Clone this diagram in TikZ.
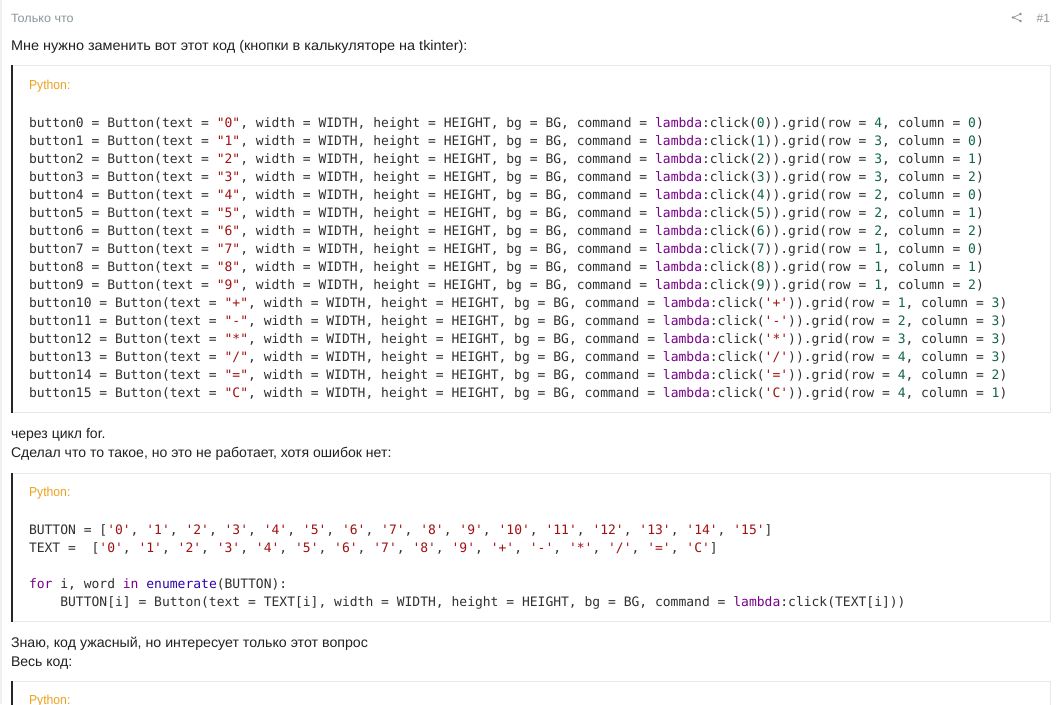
\documentclass[tikz,border=0pt]{standalone}
\usepackage{fontspec}
\setmainfont{Liberation Sans}
\newfontfamily\codefont{DejaVu Sans Mono}
\newfontfamily\bodyA[FakeStretch=1.032]{Liberation Sans}
\newfontfamily\bodyB[FakeStretch=1.014]{Liberation Sans}
\newfontfamily\bodyC[FakeStretch=1.003]{Liberation Sans}
\newfontfamily\metaA[FakeStretch=1.05]{Liberation Sans}
\newfontfamily\pyA[FakeStretch=0.94]{Liberation Sans}
\definecolor{strc}{HTML}{A11111}
\definecolor{numc}{HTML}{116644}
\definecolor{kwc}{HTML}{770088}
\definecolor{defc}{HTML}{3300AA}
\definecolor{codec}{HTML}{303030}
\definecolor{bodyc}{HTML}{212121}
\definecolor{metac}{HTML}{8A9499}
\definecolor{pyc}{HTML}{EDA21F}
\definecolor{edgec}{HTML}{E8E8E8}
\definecolor{stripc}{HTML}{F0F0F0}
\definecolor{barc}{HTML}{262626}
\newcommand{\St}[1]{\textcolor{strc}{#1}}
\newcommand{\Nm}[1]{\textcolor{numc}{#1}}
\newcommand{\Kw}[1]{\textcolor{kwc}{#1}}
\newcommand{\Df}[1]{\textcolor{defc}{#1}}
\newcommand{\BtnLine}[6]{%
  \node[codeline] (b#1) at (29,#2) {button#1 = Button(text = \St{"#3"}, width = WIDTH, height = HEIGHT, bg = BG, command = \Kw{lambda}:click(#4)).grid(row = \Nm{#5}, column = \Nm{#6})};}
\tikzset{
  codeline/.style={anchor=base west,inner sep=0pt,outer sep=0pt,text=codec,font=\codefont\fontsize{13}{18}\selectfont},
  bodytext/.style={anchor=base west,inner sep=0pt,outer sep=0pt,text=bodyc},
  metatext/.style={anchor=base west,inner sep=0pt,outer sep=0pt,text=metac},
  pytext/.style={anchor=base west,inner sep=0pt,outer sep=0pt,text=pyc,font=\pyA\fontsize{13}{16}\selectfont},
  codebox/.style={draw=edgec,fill=white,line width=1pt},
  codebar/.style={fill=barc,draw=none}
}
\begin{document}
\begin{tikzpicture}[x=1pt,y=-1pt]
\useasboundingbox (0,0) rectangle (1060,704);
\clip (0,0) rectangle (1060,704);
\fill[white] (0,0) rectangle (1060,704);
\fill[stripc] (0,0) rectangle (1.5,704);
% header
\node[metatext,font=\metaA\fontsize{12}{16}\selectfont] (when) at (11,22) {Только что};
\node[metatext,anchor=base east,font=\fontsize{12}{16}\selectfont] (num) at (1050,22) {\#1};
\coordinate (sa) at (1020.5,14);
\coordinate (sb) at (1013,17.5);
\coordinate (sc) at (1020.5,21);
\draw[metac,line width=0.7pt] (sa) -- (sb) -- (sc);
\fill[metac] (sa) circle (1.3) (sb) circle (1.3) (sc) circle (1.3);
% first
\node[bodytext,font=\bodyA\fontsize{14}{18}\selectfont] (t1) at (11,50) {Мне нужно заменить вот этот код (кнопки в калькуляторе на tkinter):};
\draw[codebox] (11.5,65.5) rectangle (1050.5,412.5);
\fill[codebar] (11,65) rectangle (13,413);
\node[pytext] (p1) at (29,89.5) {Python:};
\BtnLine{0}{127}{0}{\Nm{0}}{4}{0}
\BtnLine{1}{145}{1}{\Nm{1}}{3}{0}
\BtnLine{2}{163}{2}{\Nm{2}}{3}{1}
\BtnLine{3}{181}{3}{\Nm{3}}{3}{2}
\BtnLine{4}{199}{4}{\Nm{4}}{2}{0}
\BtnLine{5}{217}{5}{\Nm{5}}{2}{1}
\BtnLine{6}{235}{6}{\Nm{6}}{2}{2}
\BtnLine{7}{253}{7}{\Nm{7}}{1}{0}
\BtnLine{8}{271}{8}{\Nm{8}}{1}{1}
\BtnLine{9}{289}{9}{\Nm{9}}{1}{2}
\BtnLine{10}{307}{+}{\St{'+'}}{1}{3}
\BtnLine{11}{325}{-}{\St{'-'}}{2}{3}
\BtnLine{12}{343}{*}{\St{'*'}}{3}{3}
\BtnLine{13}{361}{/}{\St{'/'}}{4}{3}
\BtnLine{14}{379}{=}{\St{'='}}{4}{2}
\BtnLine{15}{397}{C}{\St{'C'}}{4}{1}
% between
\node[bodytext,font=\bodyC\fontsize{14}{18}\selectfont] (t2) at (11,438) {через цикл for.};
\node[bodytext,font=\bodyC\fontsize{14}{18}\selectfont] (t3) at (11,457) {Сделал что то такое, но это не работает, хотя ошибок нет:};
% second
\draw[codebox] (11.5,473.5) rectangle (1050.5,621.5);
\fill[codebar] (11,473) rectangle (13,622);
\node[pytext] (p2) at (29,496) {Python:};
\node[codeline] (c1) at (29,534) {BUTTON = [\St{'0'}, \St{'1'}, \St{'2'}, \St{'3'}, \St{'4'}, \St{'5'}, \St{'6'}, \St{'7'}, \St{'8'}, \St{'9'}, \St{'10'}, \St{'11'}, \St{'12'}, \St{'13'}, \St{'14'}, \St{'15'}]};
\node[codeline] (c2) at (29,552) {TEXT =~ [\St{'0'}, \St{'1'}, \St{'2'}, \St{'3'}, \St{'4'}, \St{'5'}, \St{'6'}, \St{'7'}, \St{'8'}, \St{'9'}, \St{'+'}, \St{'-'}, \St{'*'}, \St{'/'}, \St{'='}, \St{'C'}]};
\node[codeline] (c3) at (29,588) {\Kw{for} i, word \Kw{in} \Df{enumerate}(BUTTON):};
\node[codeline] (c4) at (60.3,606) {BUTTON[i] = Button(text = TEXT[i], width = WIDTH, height = HEIGHT, bg = BG, command = \Kw{lambda}:click(TEXT[i]))};
% after
\node[bodytext,font=\bodyB\fontsize{14}{18}\selectfont] (t4) at (11,647) {Знаю, код ужасный, но интересует только этот вопрос};
\node[bodytext,font=\bodyC\fontsize{14}{18}\selectfont] (t5) at (11,666) {Весь код:};
% third
\draw[codebox] (11.5,681.5) rectangle (1050.5,720);
\fill[codebar] (11,681) rectangle (13,720);
\node[pytext] (p3) at (29,704) {Python:};
\end{tikzpicture}
\end{document}
